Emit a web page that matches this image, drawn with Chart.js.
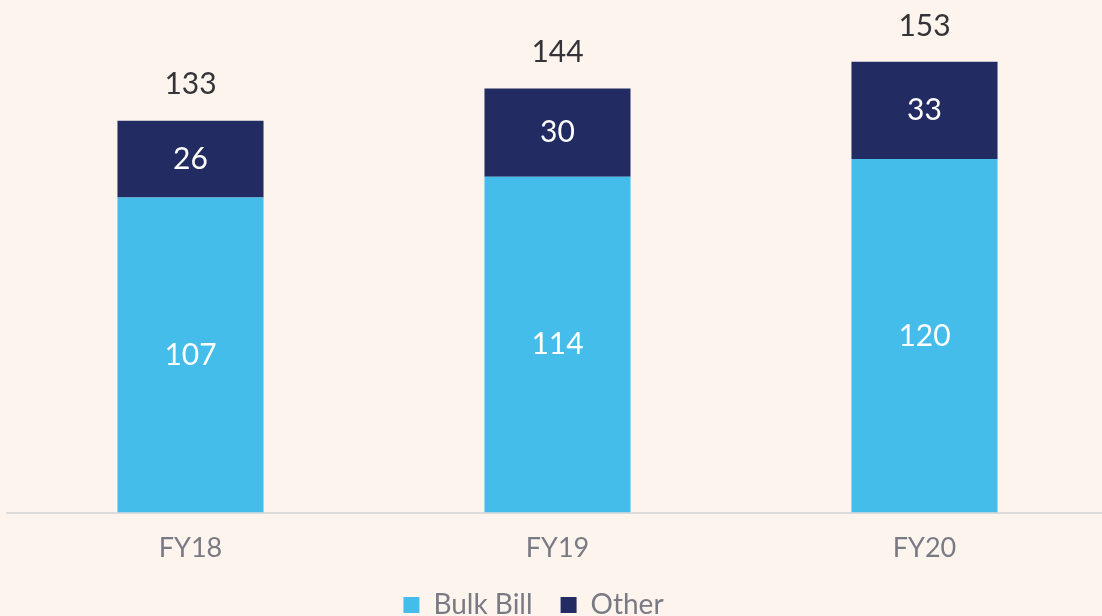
<!DOCTYPE html>
<html>
<head>
<meta charset="utf-8">
<script src="https://cdn.jsdelivr.net/npm/chart.js@4/dist/chart.umd.min.js"></script>
<style>
  html, body { margin: 0; padding: 0; background: #fdf4ee; overflow: hidden; }
  #wrap { width: 1108px; height: 632px; }
</style>
</head>
<body>
<div id="wrap"><canvas id="grafico"></canvas></div>
<script>
var anos = ["FY18", "FY19", "FY20"];
var bulkBill = [107, 114, 120];
var outros = [26, 30, 33];
var totais = [133, 144, 153];

/* Plugin para escrever os valores nas barras */
var valoresPlugin = {
	id: "valores",
	beforeUpdate: function(chart) {
		// legenda: menos altura reservada e texto um pouco acima / a esquerda
		var lg = chart.legend;
		if (lg && !lg._ajustado) {
			var fitOriginal = lg.fit;
			var drawOriginal = lg.draw;
			lg.fit = function() {
				fitOriginal.call(this);
				this.height -= 9;
			};
			lg.draw = function() {
				this.ctx.save();
				this.ctx.translate(-24, -12);
				drawOriginal.apply(this, arguments);
				this.ctx.restore();
			};
			lg._ajustado = true;
		}
	},
	afterDatasetsDraw: function(chart) {
		var ctx = chart.ctx;
		ctx.save();
		ctx.textAlign = "center";
		ctx.textBaseline = "middle";
		ctx.font = "30px Lato";
		chart.data.datasets.forEach(function(ds, i) {
			var meta = chart.getDatasetMeta(i);
			meta.data.forEach(function(bar, j) {
				ctx.fillStyle = "#ffffff";
				ctx.fillText(ds.data[j], bar.x, (bar.y + bar.base) / 2);
			});
		});
		var topo = chart.getDatasetMeta(chart.data.datasets.length - 1);
		topo.data.forEach(function(bar, j) {
			ctx.fillStyle = "#333338";
			ctx.fillText(totais[j], bar.x, bar.y - 36);
		});
		ctx.restore();
	}
};

var chartReceita = new Chart(document.getElementById("grafico"), {
	type: "bar",
	data: {
		labels: anos,
		datasets: [
			{
				label: "Bulk Bill",
				data: bulkBill,
				backgroundColor: "#45bdeb",
				categoryPercentage: 1,
				barPercentage: 0.398
			},
			{
				label: "Other",
				data: outros,
				backgroundColor: "#222c63",
				categoryPercentage: 1,
				barPercentage: 0.398
			}
		]
	},
	options: {
		responsive: true,
		maintainAspectRatio: false,
		animation: false,
		layout: { padding: { left: 7, right: 0, top: 0, bottom: 0 } },
		scales: {
			x: {
				stacked: true,
				grid: { display: false },
				border: { display: true, color: "#dcdcdc", width: 2 },
				ticks: {
					color: "#7a7a85",
					font: { family: "Lato", size: 27 },
					padding: 11
				}
			},
			y: {
				stacked: true,
				display: false,
				min: 0,
				max: 174
			}
		},
		plugins: {
			legend: {
				position: "bottom",
				labels: {
					color: "#7a7a85",
					font: { family: "Lato", size: 28 },
					boxWidth: 16,
					boxHeight: 16,
					padding: 28
				}
			},
			tooltip: { enabled: false }
		}
	},
	plugins: [valoresPlugin]
});
</script>
</body>
</html>
